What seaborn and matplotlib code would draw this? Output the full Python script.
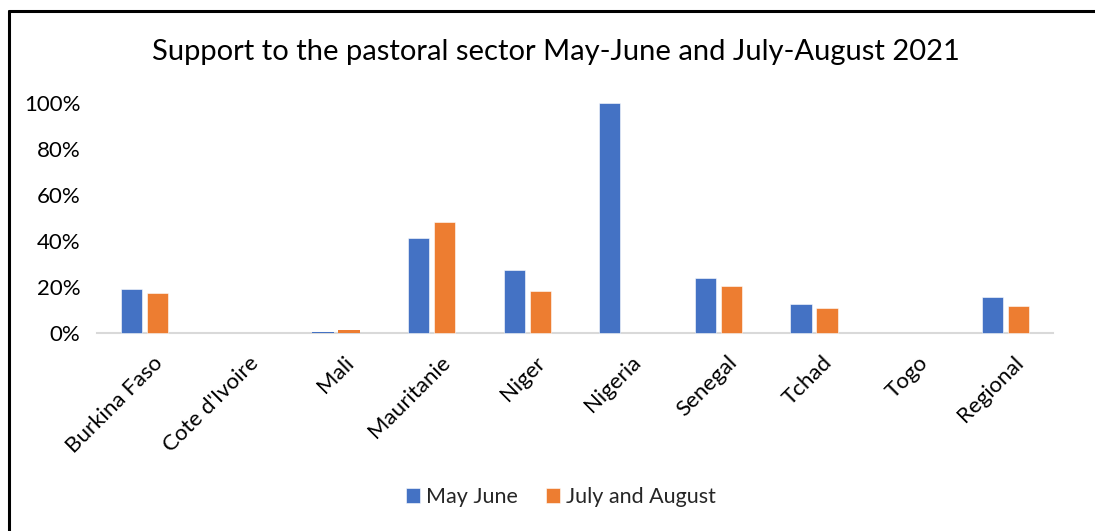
import matplotlib
matplotlib.use("Agg")
import matplotlib.pyplot as plt
from matplotlib.lines import Line2D
from matplotlib.ticker import PercentFormatter
from matplotlib.transforms import ScaledTranslation
import seaborn as sns
import pandas as pd

# Share of support to the pastoral sector, by country and period
countries = ["Burkina Faso", "Cote d'Ivoire", "Mali", "Mauritanie", "Niger",
             "Nigeria", "Senegal", "Tchad", "Togo", "Regional"]
may_june = [0.19, 0.0, 0.006, 0.413, 0.275, 1.00, 0.239, 0.126, 0.0, 0.155]
july_august = [0.175, 0.0, 0.013, 0.481, 0.184, 0.0, 0.206, 0.107, 0.0, 0.119]
series_names = ["May June", "July and August"]
colors = ["#4472C4", "#ED7D31"]

df = pd.DataFrame({
    "country": countries * 2,
    "share": may_june + july_august,
    "period": [series_names[0]] * len(countries) + [series_names[1]] * len(countries),
})

sns.set_theme(style="white")
plt.rcParams["font.family"] = ["Lato", "DejaVu Sans"]

fig = plt.figure(figsize=(10.95, 5.31), dpi=100)
W, H = 1095, 531
ax = fig.add_axes([97 / W, 1 - 333 / H, (1053 - 97) / W, (333 - 103) / H])

sns.barplot(data=df, x="country", y="share", hue="period", order=countries,
            hue_order=series_names, palette=colors, width=0.544, gap=0.19,
            edgecolor="white", linewidth=0.4, saturation=1, ax=ax, legend=True)

ax.legend(loc="center", bbox_to_anchor=(561 / W, 1 - 497 / H),
          bbox_transform=fig.transFigure, ncol=2, frameon=False,
          fontsize=15.5, handlelength=0.65, handleheight=0.65,
          handletextpad=0.3, columnspacing=1.3)

ax.set_xlim(-0.5, len(countries) - 0.5)
ax.set_ylim(0, 1.0)
ax.yaxis.set_major_formatter(PercentFormatter(1.0, decimals=0))
ax.set_yticks([0, 0.2, 0.4, 0.6, 0.8, 1.0])
ax.set_xlabel("")
ax.set_ylabel("")
# bars sit on top of the baseline so very small values stay visible;
# empty bars are hidden so their outline does not cover the baseline
for p in ax.patches:
    p.set_clip_on(False)
    p.set_zorder(3)
    if p.get_height() == 0:
        p.set_visible(False)
    elif p.get_height() < 0.02:
        p.set_linewidth(0)

for side in ["top", "right", "left"]:
    ax.spines[side].set_visible(False)
ax.spines["bottom"].set_color("#D9D9D9")
ax.spines["bottom"].set_linewidth(1.5)
ax.tick_params(axis="both", length=0, labelsize=16, colors="black")
ax.tick_params(axis="y", pad=12)
ax.tick_params(axis="x", pad=14)
shift = ScaledTranslation(8 / 100, 0, fig.dpi_scale_trans)
for lbl in ax.get_xticklabels():
    lbl.set_rotation(45)
    lbl.set_ha("right")
    lbl.set_rotation_mode("anchor")
    lbl.set_transform(lbl.get_transform() + shift)

fig.text(556 / W, 1 - 52 / H, "Support to the pastoral sector May-June and July-August 2021",
         ha="center", va="center", fontsize=21, color="black")

# frame lines along the top and left edges
fig.add_artist(Line2D([9 / W, 1.0], [1 - 11 / H, 1 - 11 / H], transform=fig.transFigure,
                      color="black", linewidth=2.2))
fig.add_artist(Line2D([9 / W, 9 / W], [0, 1 - 11 / H], transform=fig.transFigure,
                      color="black", linewidth=2.2))

fig.savefig("out.png", dpi=100, facecolor="white")
